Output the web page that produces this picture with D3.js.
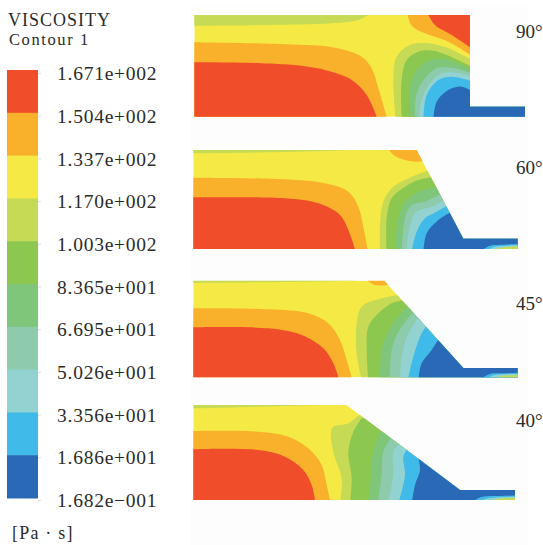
<!DOCTYPE html>
<html>
<head>
<meta charset="utf-8">
<script src="https://cdn.jsdelivr.net/npm/d3@7"></script>
<style>
  html, body { margin: 0; padding: 0; background: #fff; overflow: hidden; }
  text { font-family: "Liberation Serif", serif; fill: #2b2b2b; }
</style>
</head>
<body>
<div id="chart"></div>
<script>
// Legend levels, top to bottom, and the colour of the band below each one
const levels = ["1.671e+002", "1.504e+002", "1.337e+002", "1.170e+002", "1.003e+002", "8.365e+001",
  "6.695e+001", "5.026e+001", "3.356e+001", "1.686e+001", "1.682e\u2212001"];
const bands = ["red", "orange", "yellow", "lime", "green", "midgreen", "sea", "teal", "blue", "navy"];
const bandColors = ["#f04e2a", "#f9b02b", "#f5ea44", "#c6da55", "#8cc84f", "#7fc57a", "#8ecbac", "#92d3d2", "#40bbe9", "#2c69b5"];

const angles = ["90\u00b0", "60\u00b0", "45\u00b0", "40\u00b0"];

// Contours, in units of 1/3 pixel from the panel's crop corner
const outline90 = [[28, 30], [855, 30], [855, 305], [1020, 305], [1020, 335], [28, 335]];
const outline60 = [[25, 30], [695, 30], [835, 296], [998, 296], [998, 327], [25, 327]];
const outline45 = [[25, 32], [598, 32], [835, 294], [998, 294], [998, 322], [25, 322]];
const outline40 = [[25, 30], [485, 30], [825, 285], [990, 285], [990, 315], [25, 315]];

const contours90 = [
  { band: "lime", side: "topLeft", pts: [[550, 30], [520, 45], [440, 55], [250, 60], [28, 62]] },
  { band: "orange", side: "core", pts: [[28, 112], [300, 118], [450, 128], [530, 155], [560, 190], [580, 250], [605, 335]] },
  { band: "red", side: "core", pts: [[28, 172], [300, 178], [420, 195], [500, 225], [545, 270], [575, 335]] },
  { band: "orange", side: "topRight", pts: [[668, 30], [680, 62], [720, 85], [790, 110], [860, 152]] },
  { band: "red", side: "topRight", pts: [[730, 30], [750, 60], [800, 90], [860, 130]] },
  { band: "lime", side: "right", pts: [[632, 345], [625, 215], [635, 155], [675, 120], [730, 115], [790, 130], [860, 165]] },
  { band: "green", side: "right", pts: [[650, 345], [650, 225], [665, 165], [700, 140], [750, 138], [860, 185]] },
  { band: "midgreen", side: "right", pts: [[675, 345], [675, 245], [695, 195], [735, 165], [790, 165], [860, 195]] },
  { band: "sea", side: "right", pts: [[690, 345], [695, 265], [720, 220], [755, 190], [810, 190], [860, 205]] },
  { band: "teal", side: "right", pts: [[702, 345], [710, 285], [735, 235], [770, 205], [815, 203], [860, 215]] },
  { band: "blue", side: "right", pts: [[715, 345], [725, 270], [760, 225], [800, 215], [860, 228]] },
  { band: "navy", side: "right", pts: [[745, 345], [755, 290], [790, 255], [830, 245], [860, 258]] }
];

const contours60 = [
  { band: "lime", side: "topLeft", pts: [[500, 30], [300, 36], [25, 40]] },
  { band: "orange", side: "core", pts: [[25, 113], [300, 118], [420, 130], [490, 155], [520, 200], [535, 260], [548, 327]] },
  { band: "red", side: "core", pts: [[25, 172], [300, 175], [400, 190], [465, 225], [490, 270], [510, 327]] },
  { band: "orange", side: "topRight", pts: [[612, 30], [630, 48], [660, 60], [700, 65], [730, 60]] },
  { band: "lime", side: "right", pts: [[585, 335], [585, 255], [595, 185], [620, 145], [670, 115], [735, 90]] },
  { band: "green", side: "right", pts: [[605, 335], [605, 235], [620, 175], [660, 140], [700, 120], [748, 110]] },
  { band: "midgreen", side: "right", pts: [[630, 335], [640, 235], [660, 185], [700, 155], [760, 140]] },
  { band: "sea", side: "right", pts: [[650, 335], [660, 235], [680, 195], [720, 185], [770, 160]] },
  { band: "teal", side: "right", pts: [[665, 335], [675, 255], [695, 215], [740, 200], [780, 180]] },
  { band: "blue", side: "right", pts: [[680, 335], [695, 275], [720, 235], [755, 215], [790, 195]] },
  { band: "navy", side: "right", pts: [[715, 335], [725, 280], [760, 240], [800, 215]] },
  { band: "blue", side: "right", pts: [[892, 330], [915, 317], [960, 314], [1000, 312]] },
  { band: "teal", side: "right", pts: [[905, 330], [930, 320], [1000, 316]] },
  { band: "lime", side: "right", pts: [[925, 330], [950, 323], [1000, 319]] }
];

const contours45 = [
  { band: "lime", side: "topLeft", pts: [[520, 32], [300, 36], [25, 39]] },
  { band: "orange", side: "core", pts: [[25, 115], [250, 118], [370, 130], [430, 160], [465, 210], [485, 270], [500, 322]] },
  { band: "red", side: "core", pts: [[25, 172], [250, 175], [350, 195], [415, 235], [445, 280], [460, 322]] },
  { band: "orange", side: "topRight", pts: [[548, 32], [570, 45], [610, 45]] },
  { band: "lime", side: "right", pts: [[530, 330], [515, 250], [515, 160], [530, 110], [590, 85], [642, 75]] },
  { band: "green", side: "right", pts: [[550, 330], [545, 240], [550, 170], [580, 130], [620, 100], [658, 90]] },
  { band: "midgreen", side: "right", pts: [[585, 330], [590, 240], [615, 175], [670, 105]] },
  { band: "sea", side: "right", pts: [[615, 330], [620, 240], [640, 185], [688, 122]] },
  { band: "teal", side: "right", pts: [[645, 330], [650, 260], [668, 195], [702, 140]] },
  { band: "blue", side: "right", pts: [[668, 330], [685, 260], [705, 200], [725, 165]] },
  { band: "navy", side: "right", pts: [[700, 330], [710, 280], [740, 240], [762, 205]] },
  { band: "blue", side: "right", pts: [[890, 325], [915, 312], [960, 310], [1000, 308]] },
  { band: "teal", side: "right", pts: [[905, 325], [930, 315], [1000, 312]] },
  { band: "lime", side: "right", pts: [[925, 325], [950, 318], [1000, 315]] }
];

const contours40 = [
  { band: "lime", side: "topLeft", pts: [[400, 30], [200, 36], [25, 40]] },
  { band: "orange", side: "core", pts: [[25, 108], [220, 110], [310, 125], [370, 160], [410, 210], [425, 270], [435, 315]] },
  { band: "red", side: "core", pts: [[25, 163], [220, 165], [300, 185], [355, 225], [380, 270], [390, 315]] },
  { band: "lime", side: "right", pts: [[465, 325], [470, 250], [445, 170], [442, 98], [490, 85], [528, 55]] },
  { band: "green", side: "right", pts: [[495, 325], [500, 250], [490, 170], [505, 110], [530, 70]] },
  { band: "midgreen", side: "right", pts: [[550, 325], [558, 240], [565, 170], [590, 105]] },
  { band: "sea", side: "right", pts: [[578, 325], [590, 240], [595, 170], [618, 130]] },
  { band: "teal", side: "right", pts: [[608, 325], [625, 240], [625, 170], [645, 145]] },
  { band: "blue", side: "right", pts: [[640, 325], [660, 240], [655, 185], [668, 160]] },
  { band: "navy", side: "right", pts: [[680, 325], [690, 270], [705, 225], [700, 190]] },
  { band: "blue", side: "right", pts: [[862, 320], [890, 306], [950, 303], [995, 301]] },
  { band: "teal", side: "right", pts: [[880, 320], [910, 310], [995, 305]] },
  { band: "lime", side: "right", pts: [[905, 320], [935, 312], [995, 309]] }
];

const panels = [
  { name: "p90", angle: angles[0], outline: outline90, contours: contours90, top: 5, labelY: 38 },
  { name: "p60", angle: angles[1], outline: outline60, contours: contours60, top: 140, labelY: 174 },
  { name: "p45", angle: angles[2], outline: outline45, contours: contours45, top: 270, labelY: 310 },
  { name: "p40", angle: angles[3], outline: outline40, contours: contours40, top: 395, labelY: 427 }
];

const width = 543;
const height = 545;

const svg = d3.select("#chart")
  .append("svg")
  .attr("width", width)
  .attr("height", height)
  .style("display", "block");

const defs = svg.append("defs");
defs.append("filter")
  .attr("id", "soft")
  .append("feGaussianBlur")
  .attr("stdDeviation", 0.6);

const color = d3.scaleOrdinal().domain(bands).range(bandColors);

// Faint scan background behind the figures
svg.append("rect").attr("x", 190).attr("y", 6).attr("width", 338).attr("height", 539).attr("fill", "#fdfdfd");

// Colour bar
const barScale = d3.scaleBand().domain(bands).range([70, 498]);
const levelScale = d3.scalePoint().domain(levels).range([73, 500]);

svg.append("g")
  .attr("filter", "url(#soft)")
  .selectAll("rect")
  .data(bands)
  .enter()
  .append("rect")
  .attr("x", 7)
  .attr("y", d => barScale(d))
  .attr("width", 31)
  .attr("height", barScale.bandwidth() + 0.5)
  .attr("fill", d => color(d));

const legendAxis = svg.append("g")
  .attr("transform", "translate(38, 0)")
  .call(d3.axisRight(levelScale).tickSize(3).tickPadding(16));
legendAxis.select(".domain").remove();
legendAxis.selectAll("line").attr("stroke", "#ddd");
legendAxis.selectAll("text")
  .attr("font-family", null)
  .style("font-size", "19.5px")
  .style("letter-spacing", "0.75px")
  .attr("dy", "0.34em");

svg.append("text").attr("x", 8).attr("y", 25.5).style("font-size", "18px").style("letter-spacing", "1px").text("VISCOSITY");
svg.append("text").attr("x", 9).attr("y", 45).style("font-size", "16.5px").style("letter-spacing", "1.6px").text("Contour 1");
svg.append("text").attr("x", 12).attr("y", 539).style("font-size", "18px").style("letter-spacing", "1.2px").text("[Pa \u00b7 s]");

// Panels
const x = d3.scaleLinear().domain([0, 1074]).range([185, 543]);

panels.forEach(panel => {
  const y = d3.scaleLinear().domain([0, 360]).range([panel.top, panel.top + 120]);
  const outlinePath = d3.line().x(d => x(d[0])).y(d => y(d[1]));
  const edge = d3.line().x(d => x(d[0])).y(d => y(d[1])).curve(d3.curveCatmullRom.alpha(0.5));

  // Close a contour edge round the corner of the panel that it encloses
  const closed = c => {
    const first = c.pts[0];
    const last = c.pts[c.pts.length - 1];
    let rest;
    if (c.side === "core") rest = [[last[0], 400], [0, 400], [0, first[1]]];
    if (c.side === "topLeft") rest = [[0, last[1]], [0, 0], [first[0], 0]];
    if (c.side === "topRight") rest = [[1100, last[1]], [1100, 0], [first[0], 0]];
    if (c.side === "right") rest = [[1100, last[1]], [1100, 400], [first[0], 400]];
    return edge(c.pts) + "L" + rest.map(p => [x(p[0]), y(p[1])].join(",")).join("L") + "Z";
  };

  defs.append("clipPath")
    .attr("id", "clip-" + panel.name)
    .append("path")
    .attr("d", outlinePath(panel.outline) + "Z");

  const g = svg.append("g").attr("filter", "url(#soft)")
    .append("g").attr("clip-path", `url(#clip-${panel.name})`);

  g.append("path")
    .attr("d", outlinePath(panel.outline) + "Z")
    .attr("fill", color("yellow"));

  g.selectAll("path.contour")
    .data(panel.contours)
    .enter()
    .append("path")
    .attr("class", "contour")
    .attr("d", closed)
    .attr("fill", d => color(d.band));

  svg.append("text")
    .attr("x", 516)
    .attr("y", panel.labelY)
    .style("font-size", "19px")
    .text(panel.angle);
});
</script>
</body>
</html>
